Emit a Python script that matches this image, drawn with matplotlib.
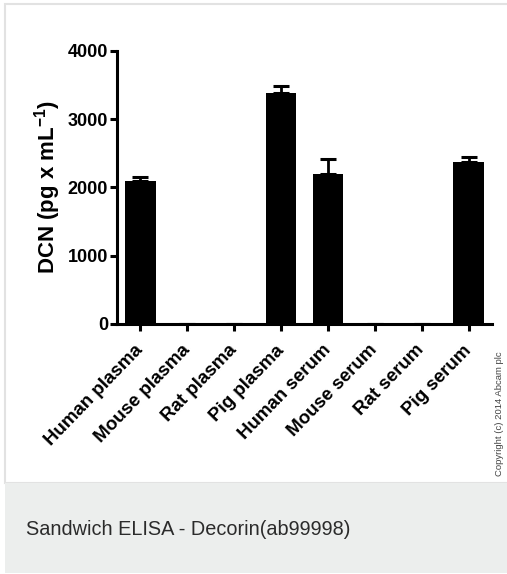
import matplotlib
matplotlib.use("Agg")
import matplotlib.pyplot as plt
from matplotlib.patches import Rectangle

samples = ["Human plasma", "Mouse plasma", "Rat plasma", "Pig plasma",
           "Human serum", "Mouse serum", "Rat serum", "Pig serum"]
dcn = [2100, 0, 0, 3380, 2190, 0, 0, 2370]
sem = [50, 0, 0, 110, 225, 0, 0, 80]
yticks = [0, 1000, 2000, 3000, 4000]

plt.rcParams['font.family'] = ['Liberation Sans', 'DejaVu Sans']
plt.rcParams['mathtext.fontset'] = 'custom'
plt.rcParams['mathtext.rm'] = 'Liberation Sans'
plt.rcParams['mathtext.bf'] = 'Liberation Sans:bold'

W, H = 507, 574
fig = plt.figure(figsize=(W / 100, H / 100), dpi=100)
fig.patch.set_facecolor('white')

# outer frame and caption band
fig.patches.append(Rectangle((5 / W, 1 - 483 / H), 1.0, (483 - 4) / H,
                             transform=fig.transFigure, facecolor='white',
                             edgecolor='#e2e2e2', linewidth=1.5, zorder=-2))
fig.patches.append(Rectangle((5 / W, 1 - 573 / H), 1.0, 90 / H,
                             transform=fig.transFigure, facecolor='#eceeed',
                             edgecolor='none', zorder=-1))
fig.text(26 / W, 1 - 535 / H, "Sandwich ELISA - Decorin(ab99998)",
         fontsize=14.3, color='#2b2b2b', ha='left', va='baseline')
fig.text(500 / W, 1 - 414 / H, "Copyright (c) 2014 Abcam plc", rotation=90,
         fontsize=6.8, color='#444444', ha='center', va='center')

ax = fig.add_axes([117 / W, 1 - 324 / H, 375 / W, (324 - 50.7) / H])
ax.set_zorder(2)
x = range(len(samples))
ax.bar(x, dcn, width=0.65, color='black', zorder=2)
ax.errorbar(x, dcn, yerr=[[0] * len(sem), sem], fmt='none', ecolor='black',
            elinewidth=2, capsize=5.6, capthick=2.2, zorder=1)

ax.set_xlim(-0.5, 7.5)
ax.set_ylim(0, 4000)
ax.set_yticks(yticks)
ax.set_xticks(list(x))
ax.set_xticklabels(samples, rotation=46, ha='right', va='center',
                   rotation_mode='anchor', fontsize=13.5, fontweight='bold')
for lab in ax.get_yticklabels():
    lab.set_fontsize(13)
    lab.set_fontweight('bold')

ax.set_ylabel(r"DCN (pg x mL$\mathbf{^{-1}}$)", fontsize=16, fontweight='bold')
ax.yaxis.set_label_coords(-0.144, 0.5)

for s in ['top', 'right']:
    ax.spines[s].set_visible(False)
for s in ['left', 'bottom']:
    ax.spines[s].set_linewidth(2.2)
ax.tick_params(axis='both', width=2.2, length=5, pad=1.5, color='black')
ax.tick_params(axis='x', pad=12)
ax.set_facecolor('none')

fig.savefig("out.png", dpi=100)
